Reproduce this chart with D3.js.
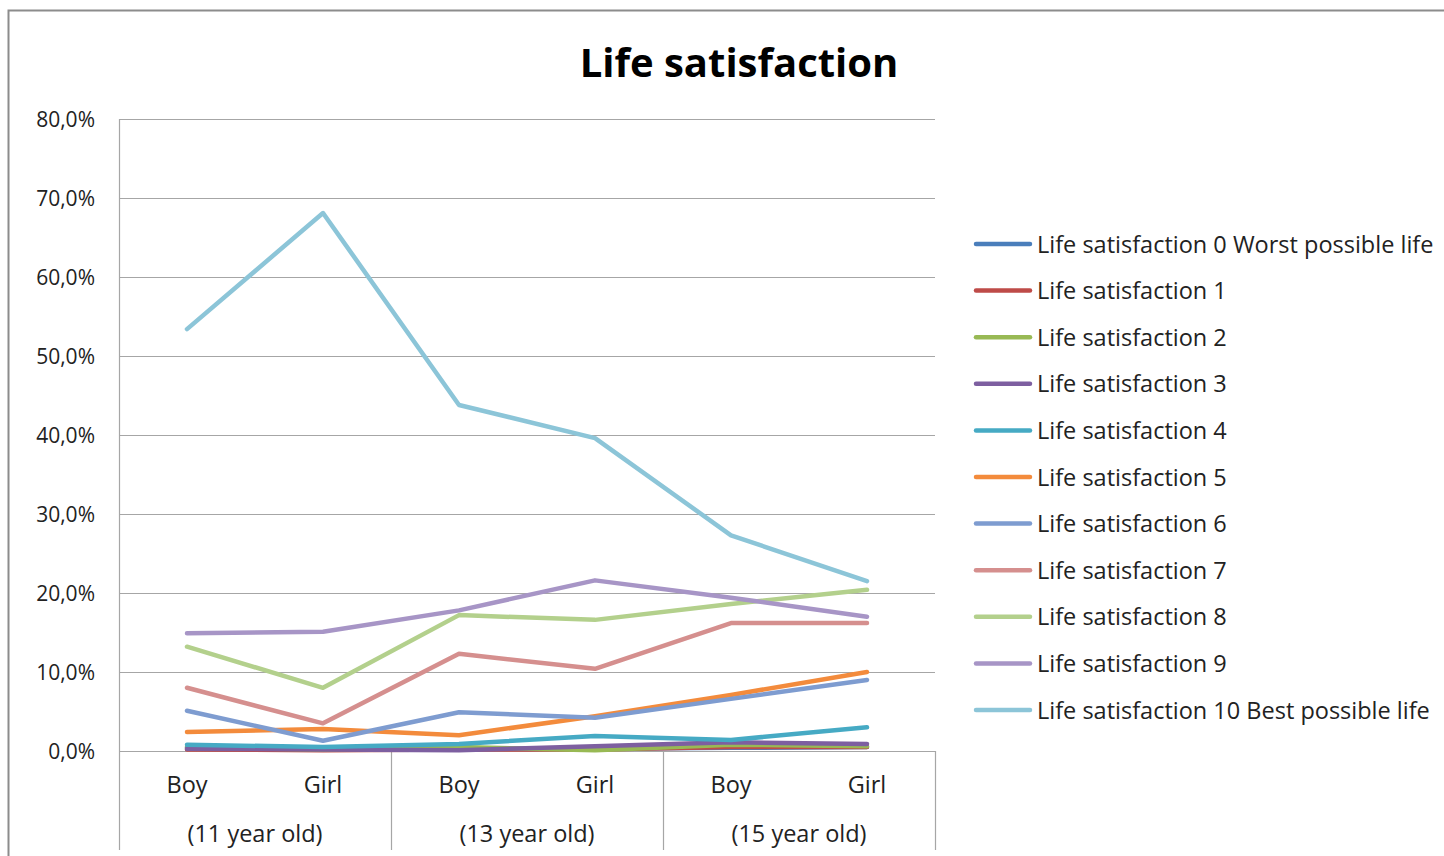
<!DOCTYPE html>
<html>
<head>
<meta charset="utf-8">
<script src="https://cdn.jsdelivr.net/npm/d3@7"></script>
<style>
  html, body { margin: 0; padding: 0; background: #fff; }
  svg { display: block; }
  text { font-family: "Open Sans", "Noto Sans", sans-serif; fill: #222; }
</style>
</head>
<body>
<svg id="chart" width="1444" height="856"></svg>
<script>
// Categories: gender within age group
const genders = ["Boy", "Girl", "Boy", "Girl", "Boy", "Girl"];
const ageGroups = ["(11 year old)", "(13 year old)", "(15 year old)"];
const yTicks = [0, 0.1, 0.2, 0.3, 0.4, 0.5, 0.6, 0.7, 0.8];

const seriesNames = [
  "Life satisfaction 0 Worst possible life",
  "Life satisfaction 1",
  "Life satisfaction 2",
  "Life satisfaction 3",
  "Life satisfaction 4",
  "Life satisfaction 5",
  "Life satisfaction 6",
  "Life satisfaction 7",
  "Life satisfaction 8",
  "Life satisfaction 9",
  "Life satisfaction 10 Best possible life"
];
const seriesColors = [
  "#4a7ebb", "#be4b48", "#98b954", "#7d5fa0", "#46aac4", "#f38b3c",
  "#7e9cd0", "#d58f8e", "#b3d08c", "#a795c6", "#8cc5d8"
];

// Share of pupils per score, in order Boy/Girl 11, Boy/Girl 13, Boy/Girl 15
const ls0  = [0.005, 0.003, 0.003, 0.003, 0.004, 0.005];
const ls1  = [0.002, 0.001, 0.002, 0.002, 0.005, 0.005];
const ls2  = [0.004, 0.002, 0.005, 0.001, 0.008, 0.006];
const ls3  = [0.003, 0.002, 0.001, 0.006, 0.011, 0.009];
const ls4  = [0.008, 0.005, 0.009, 0.019, 0.014, 0.030];
const ls5  = [0.024, 0.028, 0.020, 0.044, 0.071, 0.100];
const ls6  = [0.051, 0.013, 0.049, 0.042, 0.066, 0.090];
const ls7  = [0.080, 0.035, 0.123, 0.104, 0.162, 0.162];
const ls8  = [0.132, 0.080, 0.172, 0.166, 0.186, 0.204];
const ls9  = [0.149, 0.151, 0.178, 0.216, 0.194, 0.170];
const ls10 = [0.534, 0.681, 0.438, 0.396, 0.273, 0.215];
const seriesValues = [ls0, ls1, ls2, ls3, ls4, ls5, ls6, ls7, ls8, ls9, ls10];

const svg = d3.select("#chart");
const plot = { left: 119, right: 935, top: 119, bottom: 751 };
const axisBottom = 850;

// Outer frame (top and left edges visible)
svg.append("path")
  .attr("d", "M8.5,856 V10.5 H1444")
  .attr("fill", "none").attr("stroke", "#8c8c8c").attr("stroke-width", 2);

// Title
svg.append("text")
  .attr("x", 739).attr("y", 77)
  .attr("text-anchor", "middle")
  .style("font-size", "40px").style("font-weight", "bold")
  .style("fill", "#000")
  .text("Life satisfaction");

const x = d3.scaleBand()
  .domain(d3.range(genders.length))
  .range([plot.left, plot.right]);
const y = d3.scaleLinear().domain([0, 0.8]).range([plot.bottom, plot.top]);

// Horizontal gridlines
svg.append("g").selectAll("line").data(yTicks).join("line")
  .attr("x1", plot.left).attr("x2", plot.right)
  .attr("y1", d => Math.round(y(d)) + 0.5).attr("y2", d => Math.round(y(d)) + 0.5)
  .attr("stroke", "#a6a6a6").attr("stroke-width", 1.2);

// Y axis labels
const fmt = d => (d * 100).toFixed(1).replace(".", ",") + "%";
svg.append("g").selectAll("text").data(yTicks).join("text")
  .attr("x", 95).attr("y", d => y(d) + 8)
  .attr("text-anchor", "end")
  .style("font-size", "21px")
  .text(fmt);

// Value axis line
svg.append("line")
  .attr("x1", plot.left + 0.5).attr("x2", plot.left + 0.5)
  .attr("y1", plot.top).attr("y2", axisBottom)
  .attr("stroke", "#a6a6a6").attr("stroke-width", 1.2);

// Group separators beneath the category axis
const groupEdges = [2, 4, 6].map(i => i < genders.length ? x(i) : plot.right);
svg.append("g").selectAll("line").data(groupEdges).join("line")
  .attr("x1", d => Math.round(d) + 0.5).attr("x2", d => Math.round(d) + 0.5)
  .attr("y1", plot.bottom).attr("y2", axisBottom)
  .attr("stroke", "#a6a6a6").attr("stroke-width", 1.2);

// Category labels
svg.append("g").selectAll("text").data(genders).join("text")
  .attr("x", (d, i) => x(i) + x.bandwidth() / 2)
  .attr("y", 793)
  .attr("text-anchor", "middle")
  .style("font-size", "23.5px")
  .text(d => d);

svg.append("g").selectAll("text").data(ageGroups).join("text")
  .attr("x", (d, i) => (x(i * 2) + x(i * 2 + 1) + x.bandwidth()) / 2)
  .attr("y", 842)
  .attr("text-anchor", "middle")
  .style("font-size", "23.5px")
  .text(d => d);

// Lines
const line = d3.line()
  .x((d, i) => x(i) + x.bandwidth() / 2)
  .y(d => y(d));

svg.append("g").selectAll("path").data(seriesValues).join("path")
  .attr("d", line)
  .attr("fill", "none")
  .attr("stroke", (d, i) => seriesColors[i])
  .attr("stroke-width", 4.5)
  .attr("stroke-linejoin", "round")
  .attr("stroke-linecap", "round");

// Legend
const legend = svg.append("g").selectAll("g").data(seriesNames).join("g")
  .attr("transform", (d, i) => `translate(976, ${244 + i * 46.6})`);
legend.append("line")
  .attr("x1", 0).attr("x2", 54)
  .attr("stroke", (d, i) => seriesColors[i])
  .attr("stroke-width", 4.5).attr("stroke-linecap", "round");
legend.append("text")
  .attr("x", 61).attr("y", 8.5)
  .style("font-size", "23.5px")
  .text(d => d);
</script>
</body>
</html>
